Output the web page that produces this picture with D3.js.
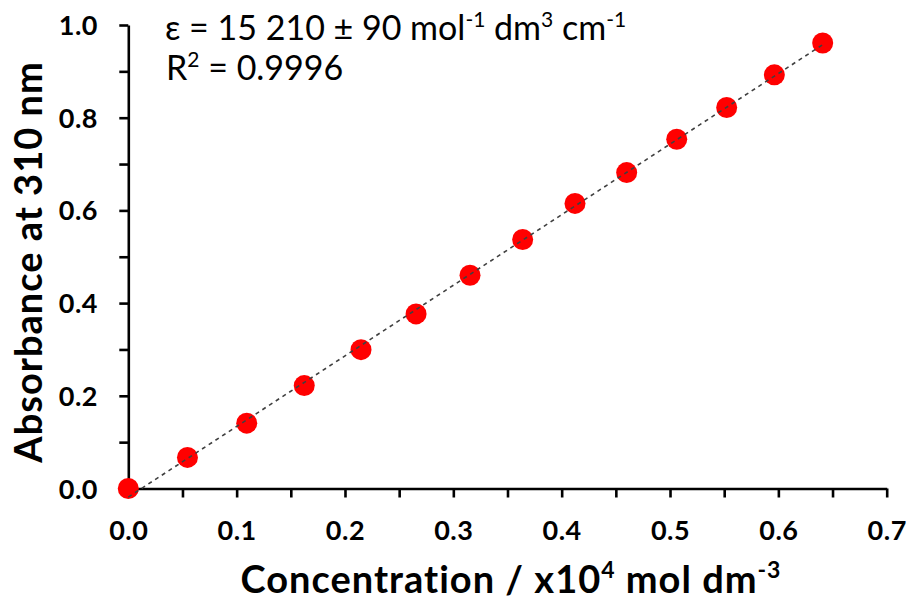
<!DOCTYPE html>
<html>
<head>
<meta charset="utf-8">
<script src="https://cdn.jsdelivr.net/npm/d3@7"></script>
<style>
  html, body { margin: 0; padding: 0; background: #fff; }
  svg { display: block; }
  text { font-family: Lato, "Open Sans", sans-serif; fill: #000; }
</style>
</head>
<body>
<svg id="chart" width="909" height="603"></svg>
<script>
// ---- data ----
const concentration = [0, 0.0546, 0.1093, 0.1624, 0.2148, 0.2656, 0.3154, 0.3640, 0.4123, 0.4600, 0.5062, 0.5523, 0.5963, 0.6409];
const absorbance    = [0, 0.0670, 0.1410, 0.2221, 0.2995, 0.3766, 0.4601, 0.5373, 0.6151, 0.6815, 0.7535, 0.8220, 0.8925, 0.9611];
const xTicks = [0, 0.05, 0.1, 0.15, 0.2, 0.25, 0.3, 0.35, 0.4, 0.45, 0.5, 0.55, 0.6, 0.65, 0.7];
const xTickLabels = [0, 0.1, 0.2, 0.3, 0.4, 0.5, 0.6, 0.7];
const yTicks = [0, 0.1, 0.2, 0.3, 0.4, 0.5, 0.6, 0.7, 0.8, 0.9, 1.0];
const yTickLabels = [0, 0.2, 0.4, 0.6, 0.8, 1.0];

const svg = d3.select("#chart");
const margin = {left: 128.3, right: 909 - 886.7, top: 25, bottom: 603 - 488.5};
const W = 909, H = 603;

const x = d3.scaleLinear().domain([0, 0.7]).range([margin.left, W - margin.right]);
const y = d3.scaleLinear().domain([0, 1.0]).range([H - margin.bottom, margin.top]);

// ---- axes ----
const xAxis = d3.axisBottom(x).tickValues(xTicks).tickSize(9).tickSizeOuter(0).tickFormat("");
const yAxis = d3.axisLeft(y).tickValues(yTicks).tickSize(9).tickSizeOuter(0).tickFormat("");

const gx = svg.append("g").attr("transform", `translate(0,${y(0)})`).call(xAxis);
const gy = svg.append("g").attr("transform", `translate(${x(0)},0)`).call(yAxis);
[gx, gy].forEach(g => {
  g.select(".domain").attr("stroke", "#000").attr("stroke-width", 2.6);
  g.selectAll(".tick line").attr("stroke", "#000").attr("stroke-width", 2.6);
});

// tick labels
svg.append("g").selectAll("text").data(xTickLabels).join("text")
  .attr("x", d => x(d) + 0.5).attr("y", 540)
  .attr("text-anchor", "middle")
  .attr("font-size", 27).attr("font-weight", "bold").attr("letter-spacing", 0.5)
  .text(d => d3.format(".1f")(d));

svg.append("g").selectAll("text").data(yTickLabels).join("text")
  .attr("x", 98).attr("y", d => y(d) + 10)
  .attr("text-anchor", "end")
  .attr("font-size", 27).attr("font-weight", "bold").attr("letter-spacing", 0.5)
  .text(d => d3.format(".1f")(d));

// axis titles
const xt = svg.append("text")
  .attr("x", 511).attr("y", 593)
  .attr("text-anchor", "middle")
  .attr("font-size", 38).attr("font-weight", "bold").attr("letter-spacing", 1);
xt.append("tspan").text("Concentration / x10");
xt.append("tspan").attr("font-size", 23).attr("dy", -15).text("4");
xt.append("tspan").attr("dy", 15).text(" mol dm");
xt.append("tspan").attr("font-size", 23).attr("dy", -15).text("-3");

svg.append("text")
  .attr("transform", `translate(42,262) rotate(-90)`)
  .attr("text-anchor", "middle")
  .attr("font-size", 38).attr("font-weight", "bold").attr("letter-spacing", 1)
  .text("Absorbance at 310 nm");

// ---- points ----
svg.append("g").selectAll("circle").data(concentration.map((c, i) => [c, absorbance[i]])).join("circle")
  .attr("cx", d => x(d[0])).attr("cy", d => y(d[1]))
  .attr("r", 10.5).attr("fill", "#ff0000");

// ---- linear trendline (least squares) ----
const mx = d3.mean(concentration), my = d3.mean(absorbance);
const slope = d3.sum(concentration, (c, i) => (c - mx) * (absorbance[i] - my)) / d3.sum(concentration, c => (c - mx) ** 2);
const intercept = my - slope * mx;
const xr = d3.extent(concentration);
svg.append("path")
  .datum(xr.map(c => [c, intercept + slope * c]))
  .attr("d", d3.line().x(d => x(d[0])).y(d => y(d[1])))
  .attr("fill", "none").attr("stroke", "#404040").attr("stroke-width", 1.6)
  .attr("stroke-dasharray", "4,4");

// ---- annotations ----
const a1 = svg.append("text").attr("x", 165).attr("y", 40).attr("font-size", 34);
a1.append("tspan").text("ε = 15 210 ± 90 mol");
a1.append("tspan").attr("font-size", 21).attr("dy", -13).text("-1");
a1.append("tspan").attr("dy", 13).text(" dm");
a1.append("tspan").attr("font-size", 21).attr("dy", -13).text("3");
a1.append("tspan").attr("dy", 13).text(" cm");
a1.append("tspan").attr("font-size", 21).attr("dy", -13).text("-1");

const a2 = svg.append("text").attr("x", 166).attr("y", 80).attr("font-size", 34);
a2.append("tspan").text("R");
a2.append("tspan").attr("font-size", 21).attr("dy", -13).text("2");
a2.append("tspan").attr("dy", 13).text(" = 0.9996");
</script>
</body>
</html>
